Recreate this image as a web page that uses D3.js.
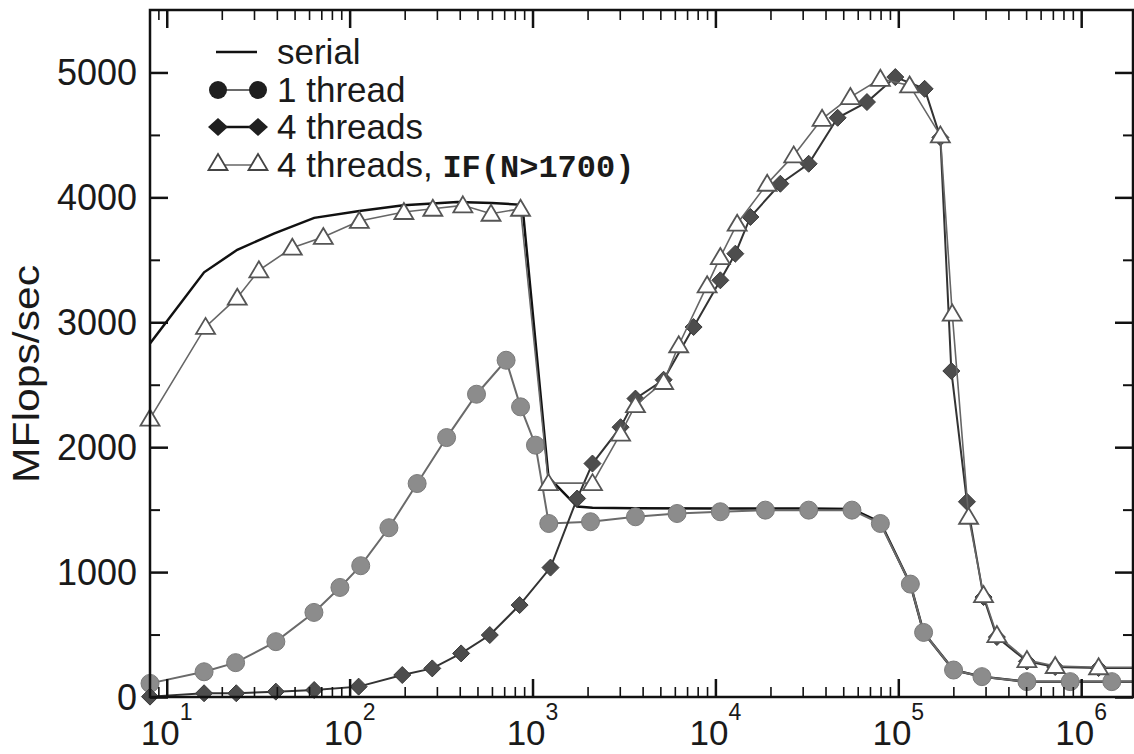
<!DOCTYPE html>
<html>
<head>
<meta charset="utf-8">
<script src="https://cdn.jsdelivr.net/npm/d3@7"></script>
<style>
  body { margin: 0; background: #fff; }
  svg { display: block; }
  text { font-family: "Liberation Sans", Arial, sans-serif; fill: #1a1a1a; }
</style>
</head>
<body>
<div id="chartContainer"></div>
<script>
const width = 1134;
const height = 754;
const marginTop = 10;
const marginRight = 1;
const marginBottom = 57;
const marginLeft = 150;

// serial (plain line)
const serialN = [8.1, 16, 24.3, 38.5, 64, 113, 197, 388, 600, 880, 1222, 1754, 2128, 3655, 10640, 32360, 55800, 79800, 116400, 137500, 200500, 286600, 504900, 871000, 1470000, 2500000];
const serialV = [2830, 3400, 3580, 3710, 3836, 3891, 3936, 3963, 3955, 3940, 1760, 1525, 1515, 1512, 1510, 1510, 1505, 1400, 904, 517, 216, 163, 123, 123, 123, 123];

// 1 thread
const oneN = [8.1, 16, 23.8, 39.5, 63.8, 88.5, 115, 164, 234, 339, 494, 717, 860, 1038, 1227, 2075, 3655, 6170, 10640, 18760, 32360, 55800, 79800, 116400, 137500, 200500, 286600, 504900, 871000, 1470000, 2500000];
const oneV = [109, 202, 275, 443, 677, 877, 1051, 1355, 1709, 2077, 2424, 2696, 2323, 2016, 1389, 1403, 1443, 1469, 1483, 1496, 1496, 1496, 1389, 904, 517, 216, 163, 123, 123, 123, 123];

// 4 threads
const fourN = [8.1, 16, 24, 39.5, 64, 112, 194, 283, 407, 584, 850, 1254, 1754, 2127, 3030, 3655, 5210, 7600, 10640, 12850, 15540, 22650, 32360, 46600, 67400, 96300, 139300, 169800, 195000, 237300, 292400, 346000, 505000, 721000, 1245000, 2500000];
const fourV = [3, 30, 30, 43, 56, 83, 176, 229, 349, 496, 736, 1036, 1589, 1869, 2160, 2389, 2540, 2962, 3336, 3549, 3843, 4109, 4269, 4637, 4763, 4963, 4869, 4480, 2610, 1563, 800, 480, 285, 240, 232, 232];

// 4 threads, IF(N>1700)
const ifN = [8.1, 16.3, 24.3, 31.9, 48.6, 71.8, 113, 198, 285, 416, 593, 860, 1222, 2128, 3030, 3655, 5210, 6300, 9010, 10640, 13150, 19190, 26800, 38300, 54700, 79800, 115300, 169800, 197200, 242300, 292400, 346000, 505000, 721000, 1245000, 2500000];
const ifV = [2229, 2963, 3197, 3416, 3597, 3683, 3811, 3883, 3909, 3936, 3869, 3909, 1712, 1712, 2109, 2336, 2522, 2816, 3296, 3522, 3789, 4109, 4336, 4629, 4803, 4949, 4896, 4496, 3070, 1443, 816, 496, 296, 248, 238, 238];

const yTicks = [0, 1000, 2000, 3000, 4000, 5000];
const yMinor = [500, 1500, 2500, 3500, 4500];
const xTickExp = [1, 2, 3, 4, 5, 6];

const zip = (xs, ys) => xs.map((n, i) => ({ n: n, v: ys[i] }));

const svg = d3.select("#chartContainer")
    .append("svg")
    .attr("width", width)
    .attr("height", height);

const xScale = d3.scaleLog()
    .domain([8.1, 1.92e6])
    .range([marginLeft, width - marginRight]);

const yScale = d3.scaleLinear()
    .domain([0, 5500])
    .range([height - marginBottom, marginTop]);

const xMajor = xTickExp.map(e => Math.pow(10, e));
const xMinor = [];
for (let e = 0; e <= 6; e++) {
    for (let k = 2; k <= 9; k++) {
        const v = k * Math.pow(10, e);
        if (v > xScale.domain()[0] && v < xScale.domain()[1]) xMinor.push(v);
    }
}

svg.append("defs").append("clipPath").attr("id", "clip")
    .append("rect")
    .attr("x", 0).attr("y", 0)
    .attr("width", width - marginRight).attr("height", height);

const plot = svg.append("g").attr("clip-path", "url(#clip)");

const line = d3.line()
    .x(d => xScale(d.n))
    .y(d => yScale(d.v));

// serial
plot.append("path")
    .datum(zip(serialN, serialV))
    .attr("fill", "none")
    .attr("stroke", "#111")
    .attr("stroke-width", 2.5)
    .attr("d", line);

// 1 thread
plot.append("path")
    .datum(zip(oneN, oneV))
    .attr("fill", "none")
    .attr("stroke", "#6a6a6a")
    .attr("stroke-width", 2)
    .attr("d", line);
plot.selectAll(".one")
    .data(zip(oneN, oneV))
    .join("circle")
    .attr("cx", d => xScale(d.n))
    .attr("cy", d => yScale(d.v))
    .attr("r", 9)
    .attr("fill", "#8c8c8c")
    .attr("stroke", "#7a7a7a")
    .attr("stroke-width", 1);

const diamond = "M0,-8.5L8.5,0L0,8.5L-8.5,0Z";
const triangle = "M0,-9L9.5,7L-9.5,7Z";

// 4 threads
plot.append("path")
    .datum(zip(fourN, fourV))
    .attr("fill", "none")
    .attr("stroke", "#333")
    .attr("stroke-width", 2)
    .attr("d", line);
plot.selectAll(".four")
    .data(zip(fourN, fourV))
    .join("path")
    .attr("transform", d => `translate(${xScale(d.n)},${yScale(d.v)})`)
    .attr("d", diamond)
    .attr("fill", "#4d4d4d")
    .attr("stroke", "#3a3a3a")
    .attr("stroke-width", 1);

// 4 threads, IF
plot.append("path")
    .datum(zip(ifN, ifV))
    .attr("fill", "none")
    .attr("stroke", "#666")
    .attr("stroke-width", 1.6)
    .attr("d", line);
plot.selectAll(".tri")
    .data(zip(ifN, ifV))
    .join("path")
    .attr("transform", d => `translate(${xScale(d.n)},${yScale(d.v)})`)
    .attr("d", triangle)
    .attr("fill", "#fff")
    .attr("stroke", "#555")
    .attr("stroke-width", 1.8);

// axes, ticks inward on all four sides
const x0 = marginLeft, x1 = width - marginRight;
const y0 = height - marginBottom, y1 = marginTop;

function ticks(axis, values, size, sw) {
    return g => {
        g.call(axis.tickValues(values).tickSizeInner(-size).tickSizeOuter(0).tickFormat(""));
        g.select(".domain").remove();
        g.selectAll("line").attr("stroke", "#111").attr("stroke-width", sw);
    };
}

svg.append("g").attr("transform", `translate(0,${y0})`).call(ticks(d3.axisBottom(xScale), xMajor, 18, 2.5));
svg.append("g").attr("transform", `translate(0,${y0})`).call(ticks(d3.axisBottom(xScale), xMinor, 10, 1.6));
svg.append("g").attr("transform", `translate(0,${y1})`).call(ticks(d3.axisTop(xScale), xMajor, 18, 2.5));
svg.append("g").attr("transform", `translate(0,${y1})`).call(ticks(d3.axisTop(xScale), xMinor, 10, 1.6));
svg.append("g").attr("transform", `translate(${x0},0)`).call(ticks(d3.axisLeft(yScale), yTicks, 18, 2.5));
svg.append("g").attr("transform", `translate(${x0},0)`).call(ticks(d3.axisLeft(yScale), yMinor, 10, 2));
svg.append("g").attr("transform", `translate(${x1},0)`).call(ticks(d3.axisRight(yScale), yTicks, 18, 2.5));
svg.append("g").attr("transform", `translate(${x1},0)`).call(ticks(d3.axisRight(yScale), yMinor, 10, 2));

svg.append("rect")
    .attr("x", x0).attr("y", y1)
    .attr("width", x1 - x0).attr("height", y0 - y1)
    .attr("fill", "none")
    .attr("stroke", "#111")
    .attr("stroke-width", 2.5);

// y tick labels
svg.append("g").selectAll("text")
    .data(yTicks)
    .join("text")
    .attr("x", x0 - 13)
    .attr("y", d => yScale(d))
    .attr("dy", "0.36em")
    .attr("text-anchor", "end")
    .style("font-size", "36px")
    .text(d => d);

// x tick labels 10^k
const xl = svg.append("g").selectAll("text")
    .data(xTickExp)
    .join("text")
    .attr("x", d => xScale(Math.pow(10, d)))
    .attr("y", 745)
    .attr("text-anchor", "middle")
    .style("font-size", "35px");
xl.append("tspan").text("10");
xl.append("tspan").attr("dy", -25).style("font-size", "23px").text(d => d);

svg.append("text")
    .attr("transform", "rotate(-90)")
    .attr("x", -374)
    .attr("y", 39)
    .attr("text-anchor", "middle")
    .attr("textLength", 218)
    .attr("lengthAdjust", "spacingAndGlyphs")
    .style("font-size", "37px")
    .text("MFlops/sec");

// legend
const legendX = [218, 258];
const legend = svg.append("g");

legend.append("line")
    .attr("x1", legendX[0] - 2).attr("x2", legendX[1] - 1)
    .attr("y1", 52).attr("y2", 52)
    .attr("stroke", "#111").attr("stroke-width", 2.5);
legend.append("text").attr("x", 277).attr("y", 64).style("font-size", "35px").text("serial");

legend.append("line")
    .attr("x1", legendX[0]).attr("x2", legendX[1])
    .attr("y1", 90).attr("y2", 90)
    .attr("stroke", "#6a6a6a").attr("stroke-width", 2);
legend.selectAll(".lc").data(legendX).join("circle")
    .attr("cx", d => d).attr("cy", 90).attr("r", 9)
    .attr("fill", "#1f1f1f");
legend.append("text").attr("x", 277).attr("y", 102).style("font-size", "35px").text("1 thread");

legend.append("line")
    .attr("x1", legendX[0]).attr("x2", legendX[1])
    .attr("y1", 127).attr("y2", 127)
    .attr("stroke", "#111").attr("stroke-width", 2.5);
legend.selectAll(".ld").data(legendX).join("path")
    .attr("transform", d => `translate(${d},127)`)
    .attr("d", "M0,-9L10,0L0,9L-10,0Z")
    .attr("fill", "#1f1f1f");
legend.append("text").attr("x", 277).attr("y", 139).style("font-size", "35px").text("4 threads");

legend.append("line")
    .attr("x1", legendX[0]).attr("x2", legendX[1])
    .attr("y1", 165).attr("y2", 165)
    .attr("stroke", "#666").attr("stroke-width", 1.6);
legend.selectAll(".lt").data(legendX).join("path")
    .attr("transform", d => `translate(${d},163)`)
    .attr("d", triangle)
    .attr("fill", "#fff").attr("stroke", "#444").attr("stroke-width", 1.8);
const t4 = legend.append("text").attr("x", 277).attr("y", 177).style("font-size", "35px");
t4.append("tspan").text("4 threads, ");
t4.append("tspan")
    .style("font-family", "'Liberation Mono', 'Courier New', monospace")
    .style("font-weight", "bold")
    .style("font-size", "32px")
    .text("IF(N>1700)");
</script>
</body>
</html>
